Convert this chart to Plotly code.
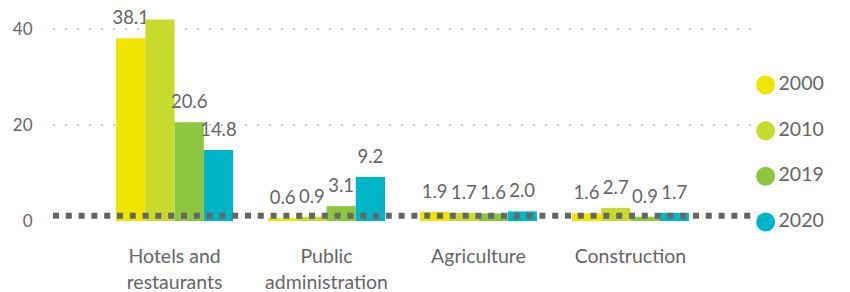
import plotly.graph_objects as go

categories = ["Hotels and<br>restaurants", "Public<br>administration", "Agriculture", "Construction"]
years = ["2000", "2010", "2019", "2020"]
v2000 = [38.1, 0.6, 1.9, 1.6]
v2010 = [42.0, 0.9, 1.7, 2.7]
v2019 = [20.6, 3.1, 1.6, 0.9]
v2020 = [14.8, 9.2, 2.0, 1.7]
series = [v2000, v2010, v2019, v2020]
colors = ["#F0E500", "#C8DA2B", "#8DC63F", "#00B5C8"]
reference_value = 1.1

FONT = "Lato, 'Open Sans', sans-serif"
GREY = "#666666"
LABEL_PAD = 1.45  # gap (in axis units) between bar top and its value label

fig = go.Figure()
for i, (name, vals, col) in enumerate(zip(years, series, colors)):
    fig.add_trace(go.Bar(
        x=categories, y=vals, name=name, offsetgroup=str(i),
        marker=dict(color=col, line=dict(width=0)),
        textposition="none", showlegend=False, hoverinfo="x+y",
    ))
    # transparent carrier bar sitting on top of each bar to hold its value label
    fig.add_trace(go.Bar(
        x=categories, y=[LABEL_PAD] * len(vals), base=vals, offsetgroup=str(i),
        marker=dict(color="rgba(0,0,0,0)", line=dict(width=0)),
        text=[f"{v:.1f}" for v in vals], textposition="outside", constraintext="none",
        textfont=dict(family=FONT, size=18.5, color=GREY),
        cliponaxis=True, showlegend=False, hoverinfo="skip",
    ))

# custom legend with circle markers
fig.add_trace(go.Scatter(
    x=[0] * len(years), y=list(range(len(years))), xaxis="x2", yaxis="y2",
    mode="markers+text", text=years, textposition="middle right",
    textfont=dict(family=FONT, size=19.5, color=GREY),
    marker=dict(size=19, color=colors), cliponaxis=False, showlegend=False,
    hoverinfo="skip",
))

fig.add_shape(type="line", xref="x domain", yref="y", x0=0, x1=1,
              y0=reference_value, y1=reference_value,
              line=dict(color="#666666", width=6, dash="6px,6.8px"), layer="above")

fig.update_layout(
    width=842, height=284,
    margin=dict(l=45, r=2, t=2, b=32),
    paper_bgcolor="white", plot_bgcolor="white",
    barmode="group", bargap=0.23, bargroupgap=0,
    font=dict(family=FONT, color=GREY),
    xaxis=dict(domain=[0, 0.883], range=[-0.80, 3.82], showgrid=False, zeroline=False,
               showline=False, ticks="outside", ticklen=18, tickcolor="rgba(0,0,0,0)",
               tickfont=dict(family=FONT, size=19.5, color=GREY), automargin=False),
    yaxis=dict(domain=[0.156, 1], range=[0, 44], tickvals=[0, 20, 40], showgrid=True,
               gridcolor="#c8c8c8", gridwidth=2, griddash="2px,10px", zeroline=False,
               showline=False, ticks="outside", ticklen=16, tickcolor="rgba(0,0,0,0)",
               tickfont=dict(family=FONT, size=17, color=GREY), automargin=False),
    xaxis2=dict(domain=[0.89, 1.0], range=[-0.062, 1], visible=False, anchor="y2"),
    yaxis2=dict(domain=[0, 1], range=[3.832, -1.642], visible=False, anchor="x2"),
)

fig.write_html("out.html")
